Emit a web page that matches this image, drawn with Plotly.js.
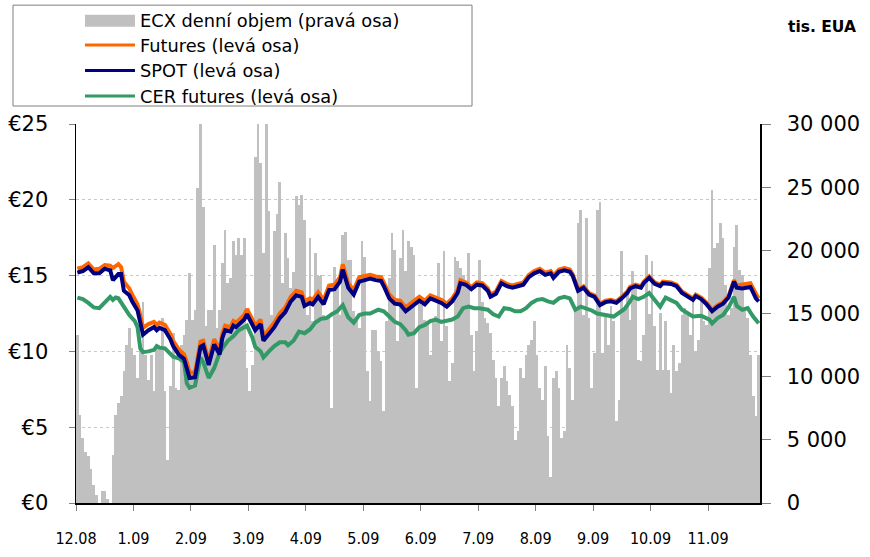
<!DOCTYPE html>
<html><head><meta charset="utf-8">
<script src="https://cdn.plot.ly/plotly-3.0.1.min.js"></script>
<style>html,body{margin:0;padding:0;background:#fff}#chart{width:870px;height:557px}</style>
</head><body><div id="chart"></div><script>
// ---- data ----
const monthLabels = ["12.08","1.09","2.09","3.09","4.09","5.09","6.09","7.09","8.09","9.09","10.09","11.09"];
const monthStartDay = [0,21,42,63,84,105,126,147,168,189,210,231];

const seriesNames = ["ECX denní objem (pravá osa)","Futures (levá osa)","SPOT (levá osa)","CER futures (levá osa)"];

// ECX daily volume, thousand EUA (one value per trading day)
const volume = [
13270,7000,5150,4000,3700,2700,1460,660,0,920,920,300,0,3830,6990,7920,8450,10420,12530,13850,12260,
11740,9890,12260,15950,11740,9760,11740,8840,12530,12400,14640,8840,3440,9230,13450,9100,8970,12530,13320,14500,
18200,14500,15300,24900,30500,23400,14000,15300,15300,20400,13850,15300,19000,21600,17400,17800,20700,19600,21000,19600,21000,10700,8840,10950,27400,30500,26900,19800,30500,23100,14900,21500,22900,25400,17400,21400,19400,17000,18300,24300,23600,24400,22400,
14900,20960,14370,19780,17930,18060,14900,14770,14640,7520,18720,17540,14900,21220,21490,19250,19250,15160,14640,13850,20700,19510,10420,8050,13720,13720,12000,11210,7260,14370,17800,21360,20040,12790,19380,21620,18330,20700,20300,19640,
9100,15950,15690,14500,14370,11740,14500,14770,18980,12790,19910,13980,9630,11080,19510,19120,18590,18060,17400,19780,13320,10420,13580,19250,15950,14640,14240,13450,11340,9890,7650,9890,10810,9630,8580,7650,5020,5680,10680,9890,11740,12530,12920,14370,
11740,9100,8180,10810,5290,2040,9890,10420,9100,5150,5680,12530,10680,8180,15160,22150,23200,14900,22540,14640,9100,11870,23200,23860,11870,15030,12530,15560,14370,6470,8180,19910,15160,16880,14500,18330,17010,11340,11210,13320,19640,
15000,19120,13980,10550,15030,10550,14370,10550,8710,12530,10420,11080,14900,15430,14900,13320,15950,12000,12920,16080,14370,14110,18590,24780,20170,20570,22150,20960,17270,14900,15430,20300,22020,18460,18060,15430,14640,11740,8440,6860,11740
];

// SPOT and Futures prices (EUR/t), read at these trading days
const spotDay = [0,2,4,6,8,10,12,13,15,16,17,19,20,22,23,24,26,28,29,30,32,34,35,37,39,40,41,43,45,46,48,50,52,53,54,56,57,58,61,62,64,65,67,68,70,72,74,76,78,80,82,83,85,86,88,90,92,94,96,97,99,101,103,105,107,109,111,112,114,116,118,120,122,124,125,127,129,131,133,135,137,139,140,142,144,146,148,150,151,153,155,157,159,161,163,165,167,169,171,173,174,176,178,180,181,183,185,187,189,191,193,195,197,199,201,202,204,206,207,209,211,213,214,217,219,221,223,225,226,228,230,232,234,236,238,240,241,243,246,248,249];
const spot = [15.2,15.3,15.55,15.15,15.15,15.45,15.35,14.7,15.1,15.1,14.0,13.7,13.3,12.7,11.9,11.1,11.4,11.6,11.4,11.55,11.4,10.8,10.35,9.8,9.5,8.9,8.25,8.3,10.3,10.4,9.1,10.45,9.8,10.9,11.4,11.3,11.7,11.6,12.1,12.45,11.8,11.4,11.8,10.7,11.15,11.6,12.2,12.6,13.3,13.7,13.6,13.0,13.2,13.1,13.6,13.1,14.05,14.1,14.6,15.4,14.2,13.75,14.6,14.7,14.8,14.7,14.65,14.3,13.5,13.15,13.1,12.65,12.9,13.2,13.35,13.1,13.5,13.35,13.2,12.95,13.3,13.85,14.5,14.4,14.1,14.4,14.35,14.0,13.6,13.8,14.5,14.3,14.2,14.3,14.4,14.9,15.15,15.3,15.05,15.15,14.85,15.25,15.35,15.25,15.0,14.0,14.2,13.75,13.6,13.05,13.25,13.3,13.2,13.5,13.85,14.15,14.3,14.2,14.5,14.85,14.45,14.3,14.5,14.45,14.3,13.85,13.6,13.4,13.65,13.45,13.1,12.65,12.95,13.15,13.55,14.6,14.2,14.15,14.25,13.5,13.3];
const futures = [15.45,15.55,15.8,15.4,15.45,15.7,15.65,15.5,15.75,15.55,14.6,14.15,13.75,13.1,12.4,11.55,11.8,11.95,11.75,11.9,11.75,11.15,10.7,10.15,9.8,9.3,8.6,8.6,10.65,10.7,9.4,10.8,10.1,11.2,11.7,11.6,12.0,11.9,12.4,12.8,12.1,11.7,12.1,11.0,11.45,11.9,12.5,12.9,13.6,14.0,13.9,13.3,13.5,13.4,13.9,13.4,14.35,14.4,14.9,15.75,14.5,14.05,14.9,15.0,15.05,14.95,14.9,14.55,13.75,13.4,13.35,12.9,13.15,13.45,13.6,13.35,13.7,13.55,13.4,13.15,13.5,14.05,14.7,14.55,14.25,14.55,14.5,14.15,13.75,13.95,14.65,14.45,14.35,14.45,14.55,15.05,15.3,15.45,15.2,15.3,15.0,15.4,15.5,15.4,15.1,14.1,14.3,13.85,13.7,13.15,13.35,13.4,13.3,13.6,13.95,14.25,14.4,14.3,14.6,14.95,14.55,14.4,14.6,14.55,14.4,13.95,13.7,13.5,13.75,13.55,13.2,12.75,13.05,13.25,13.65,14.7,14.35,14.4,14.5,13.8,13.5];

// CER futures prices (EUR/t)
const cerDay = [0,2,4,6,8,10,12,13,14,15,16,17,19,21,22,23,24,26,28,29,30,32,34,35,37,39,40,41,43,45,46,48,50,52,53,55,57,59,61,62,64,65,67,68,70,72,74,76,77,79,81,83,85,87,89,91,93,95,97,99,101,103,105,107,110,112,114,116,118,120,121,123,125,127,129,131,133,135,137,139,141,143,145,147,150,152,154,156,158,160,162,164,166,168,170,172,174,176,178,180,182,184,186,188,190,192,194,196,198,200,202,203,205,207,209,211,213,215,217,219,221,223,225,228,231,232,234,236,238,240,241,243,245,247,249];
const cer = [13.55,13.45,13.2,12.9,12.85,13.2,13.6,13.4,13.55,13.5,13.2,12.9,12.4,12.0,11.6,10.2,9.95,10.0,10.1,10.35,10.25,10.2,9.8,9.65,9.55,9.3,7.9,7.6,7.75,9.6,9.3,8.25,8.9,9.9,10.2,10.7,11.0,11.4,11.6,11.7,10.9,10.3,10.0,9.6,10.0,10.35,10.6,10.6,10.4,10.7,11.3,11.2,11.45,11.9,12.15,12.2,12.45,12.65,13.05,12.25,11.9,12.4,12.5,12.5,12.75,12.65,12.3,11.95,11.8,11.4,11.1,11.2,11.6,11.75,12.0,12.1,11.95,12.0,12.1,12.3,12.85,12.95,12.85,12.85,12.75,12.45,12.3,12.85,12.8,12.65,12.65,12.85,13.2,13.4,13.45,13.3,13.2,13.5,13.6,13.5,12.75,12.95,12.85,12.7,12.5,12.45,12.35,12.3,12.55,12.8,13.3,13.6,13.45,13.6,13.85,13.4,12.95,13.55,13.4,13.2,12.75,12.5,12.3,12.35,12.1,11.85,12.2,12.4,12.9,13.6,13.0,12.75,12.85,12.3,11.85];

// ---- styling ----
const colors = {bar:"#C0C0C0", fut:"#FF6600", spot:"#000080", cer:"#339966"};
const dayIdx = volume.map((_, i) => i);
const L = 76, R = 760, T = 124, B = 503.5;
const pxX = x => (x - L) / (R - L);
const pxY = y => (B - y) / (B - T);
const legendFont = {family:"DejaVu Sans, Verdana, sans-serif", size:17.8, color:"#000"};
const axisFont = {family:"DejaVu Sans, Verdana, sans-serif", size:21, color:"#000"};

const traces = [
  {type:"bar", x:dayIdx, y:volume, yaxis:"y", name:seriesNames[0],
   marker:{color:colors.bar, line:{width:0}}, hoverinfo:"skip"},
  {type:"scatter", mode:"lines", x:cerDay, y:cer, yaxis:"y2", name:seriesNames[3],
   line:{color:colors.cer, width:4}, hoverinfo:"skip"},
  {type:"scatter", mode:"lines", x:spotDay, y:futures, yaxis:"y2", name:seriesNames[1],
   line:{color:colors.fut, width:4}, hoverinfo:"skip"},
  {type:"scatter", mode:"lines", x:spotDay, y:spot, yaxis:"y2", name:seriesNames[2],
   line:{color:colors.spot, width:4}, hoverinfo:"skip"}
];

const legendRows = [
  {name:seriesNames[0], kind:"bar", color:colors.bar, y:20.5},
  {name:seriesNames[1], kind:"line", color:colors.fut, y:45},
  {name:seriesNames[2], kind:"line", color:colors.spot, y:70.5},
  {name:seriesNames[3], kind:"line", color:colors.cer, y:96}
];

const shapes = [
  {type:"rect", xref:"paper", yref:"paper", x0:pxX(13), x1:pxX(472), y0:pxY(106), y1:pxY(5),
   line:{color:"#7f7f7f", width:1}, fillcolor:"#fff", layer:"above"}
];
const annotations = [
  {xref:"paper", yref:"paper", x:pxX(858), y:pxY(27), xanchor:"right", yanchor:"middle",
   text:"<b>tis. EUA</b>", showarrow:false, font:{family:"DejaVu Sans, Verdana, sans-serif", size:15.5, color:"#000"}}
];
legendRows.forEach(r => {
  if (r.kind === "bar") {
    shapes.push({type:"rect", xref:"paper", yref:"paper", x0:pxX(85), x1:pxX(135), y0:pxY(r.y+6), y1:pxY(r.y-6),
      line:{width:0}, fillcolor:r.color, layer:"above"});
  } else {
    shapes.push({type:"line", xref:"paper", yref:"paper", x0:pxX(85), x1:pxX(135), y0:pxY(r.y), y1:pxY(r.y),
      line:{color:r.color, width:3}, layer:"above"});
  }
  annotations.push({xref:"paper", yref:"paper", x:pxX(138), y:pxY(r.y), xanchor:"left", yanchor:"middle",
    text:r.name, showarrow:false, font:legendFont});
});

const layout = {
  width:870, height:557,
  margin:{l:L, r:870-R, t:T, b:557-B, pad:0},
  paper_bgcolor:"#fff", plot_bgcolor:"#fff",
  showlegend:false,
  bargap:0,
  separators:", ",
  xaxis:{range:[-0.5, volume.length-0.5], tickmode:"array",
    tickvals:monthStartDay.map(d => d - 0.5), ticktext:monthLabels,
    ticks:"outside", ticklen:6, tickcolor:"#808080", tickwidth:1,
    showline:true, linecolor:"#000", linewidth:1.5, showgrid:false, zeroline:false,
    tickfont:{family:"Liberation Sans Narrow, DejaVu Sans Condensed, Arial Narrow, sans-serif", size:16, color:"#000"},
    ticklabelstandoff:14, fixedrange:true},
  yaxis:{side:"right", range:[0,30000], dtick:5000, tick0:0, tickformat:",.0f",
    ticks:"outside", ticklen:9, tickcolor:"#808080",
    showline:true, linecolor:"#000", linewidth:1.5, showgrid:false, zeroline:false,
    tickfont:axisFont, ticklabelstandoff:12, fixedrange:true},
  yaxis2:{overlaying:"y", side:"left", range:[0,25], dtick:5, tick0:0, tickprefix:"€",
    ticks:"outside", ticklen:6, tickcolor:"#808080",
    showline:true, linecolor:"#000", linewidth:1.5,
    showgrid:true, gridcolor:"#c8c8c8", griddash:"dot", gridwidth:1, zeroline:false,
    tickfont:axisFont, ticklabelstandoff:16, fixedrange:true},
  shapes:shapes,
  annotations:annotations
};

Plotly.newPlot("chart", traces, layout, {displayModeBar:false, staticPlot:true});
</script></body></html>
